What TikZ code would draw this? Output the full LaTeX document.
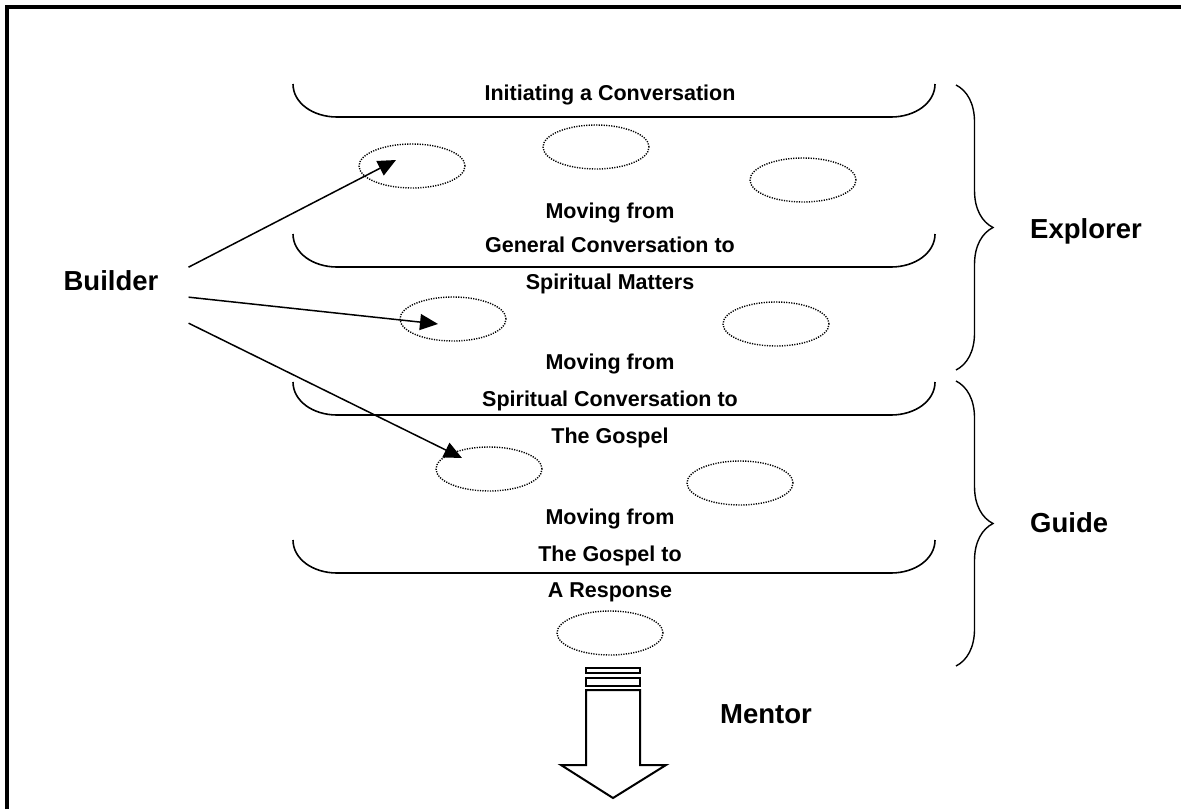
\documentclass[tikz,border=0pt]{standalone}
\usepackage{fontspec}
\setmainfont{Liberation Sans}
\usetikzlibrary{arrows.meta,shapes.geometric,decorations.pathreplacing}

\begin{document}
\begin{tikzpicture}[x=1pt,y=-1pt,
	stage/.style={
		font=\bfseries\fontsize{21.5}{24}\selectfont,
		anchor=base,
		inner sep=0
	},
	role/.style={
		font=\bfseries\fontsize{27.5}{30}\selectfont,
		anchor=base,
		inner sep=0
	},
	spot/.style={
		draw,
		ellipse,
		line width=1.4,
		dash pattern=on 1.2pt off 1.3pt,
		minimum width=106,
		minimum height=44,
		inner sep=0
	},
	bowl/.style={line width=1.6},
	pointer/.style={line width=1.5, -{Triangle[length=18pt,width=16pt]}},
	curly/.style={line width=1.4, decorate, decoration={brace, amplitude=37pt}}]

	\useasboundingbox (0,0) rectangle (1182,809);
	\fill [white] (0,0) rectangle (1182,809);
	\draw [line width=3.5] (6.8,809) -- (6.8,6.8) -- (1181,6.8);

	% the four stage lines
	\foreach \yb in {117,267,415,573}
		\draw [bowl] (293,\yb-33) .. controls (293,\yb-14) and (313,\yb) .. (337,\yb)
			-- (891,\yb) .. controls (915,\yb) and (935,\yb-14) .. (935,\yb-33);

	\node[stage] (init) at (610,100) {Initiating a Conversation};
	\node[stage] (move1) at (610,218) {Moving from};
	\node[stage] (general) at (610,252) {General Conversation to};
	\node[stage] (matters) at (610,289) {Spiritual Matters};
	\node[stage] (move2) at (610,369) {Moving from};
	\node[stage] (spiritual) at (610,406) {Spiritual Conversation to};
	\node[stage] (gospel) at (610,443) {The Gospel};
	\node[stage] (move3) at (610,524) {Moving from};
	\node[stage] (gospelto) at (610,561) {The Gospel to};
	\node[stage] (response) at (610,597) {A Response};

	\node[spot] (s1) at (412,166) {};
	\node[spot] (s2) at (596,147) {};
	\node[spot] (s3) at (803,180) {};
	\node[spot] (s4) at (453,319) {};
	\node[spot] (s5) at (776,324) {};
	\node[spot] (s6) at (489,469) {};
	\node[spot] (s7) at (740,483) {};
	\node[spot] (s8) at (610,633) {};

	\node[role] (builder) at (111,290) {Builder};
	\node[role, anchor=base west] (explorer) at (1030,238) {Explorer};
	\node[role, anchor=base west] (guide) at (1030,532) {Guide};
	\node[role, anchor=base west] (mentor) at (720,723) {Mentor};

	\draw [pointer] ([xshift=30pt,yshift=13pt]builder.east) -- ([xshift=-16pt,yshift=6pt]s1.center);
	\draw [pointer] ([xshift=30pt,yshift=-17pt]builder.east) -- ([xshift=-15pt,yshift=-5pt]s4.center);
	\draw [pointer] ([xshift=30pt,yshift=-43pt]builder.east) -- ([xshift=-27pt,yshift=11pt]s6.center);

	\draw [curly] (956,85) -- (956,370);
	\draw [curly] (956,381) -- (956,666);

	% arrow down to mentor
	\draw [line width=2] (586,668) rectangle (640,673);
	\draw [line width=2] (586,678) rectangle (640,686);
	\draw [line width=2] (586,690) -- (640,690) -- (640,765) -- (666,765)
		-- (613,798) -- (561,765) -- (586,765) -- cycle;
\end{tikzpicture}
\end{document}
